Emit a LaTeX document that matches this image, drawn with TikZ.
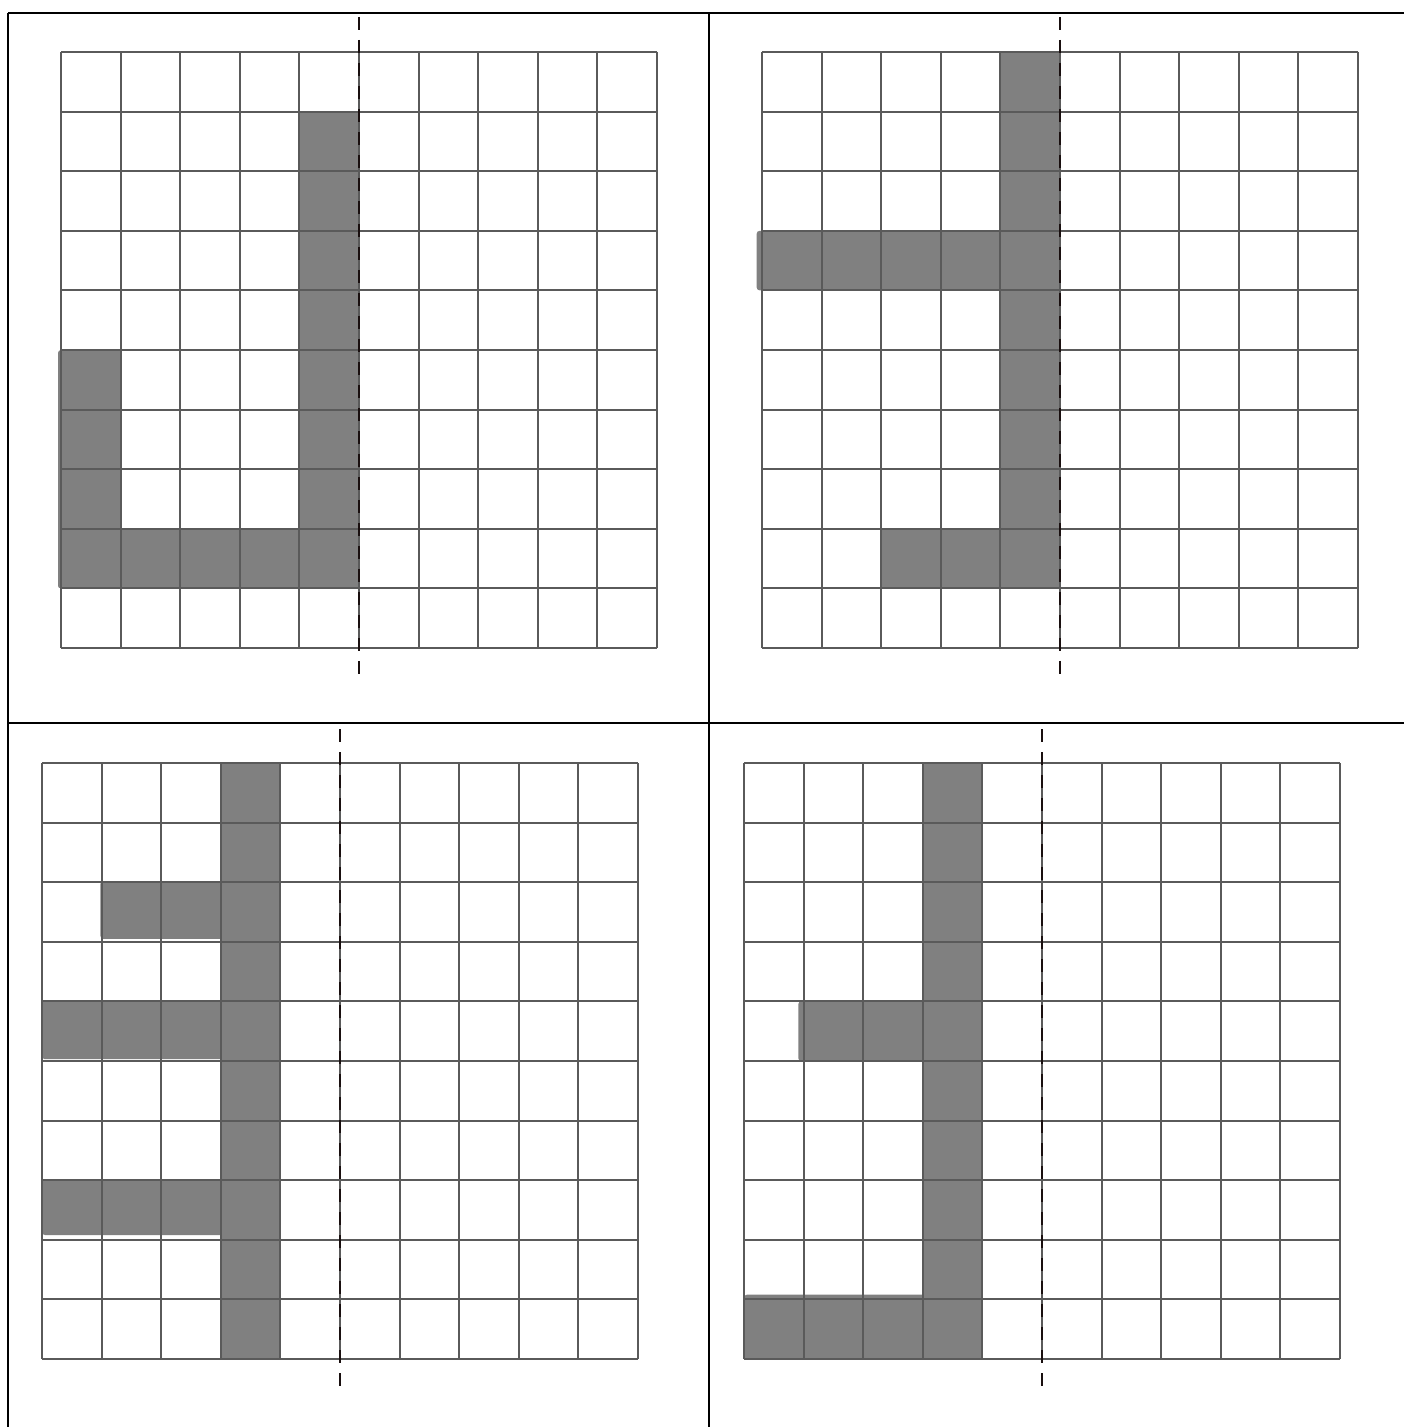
\documentclass[tikz,border=0pt]{standalone}
\begin{document}
\begin{tikzpicture}[x=0.5pt,y=-0.5pt,
  tableline/.style={line width=1.1pt,black},
  gridline/.style={line width=1pt,draw={rgb,255:red,90;green,90;blue,90}},
  shade/.style={fill={rgb,255:red,128;green,128;blue,128},rounded corners=1.5pt},
  axisline/.style={line width=1.3pt,draw={rgb,255:red,25;green,15;blue,15},dash pattern=on 6.5pt off 5pt}]
\useasboundingbox (0,0) rectangle (1404,1427);
% table frame
\draw[tableline] (8,13) -- (1404,13);
\draw[tableline] (8,13) -- (8,1427);
\draw[tableline] (709,13) -- (709,1427);
\draw[tableline] (8,723) -- (1404,723);
% ---------- top-left ----------
\begin{scope}[shift={(61,52)},x=29.8pt,y=-29.8pt]
  \fill[shade] (4,1) rectangle (5,9);
  \fill[shade] (-0.05,5) rectangle (1,9);
  \fill[shade] (-0.05,8) rectangle (5,9);
  \foreach \i in {0,...,10} {
    \draw[gridline] (\i,0) -- (\i,10);
    \draw[gridline] (0,\i) -- (10,\i);
  }
  \draw[axisline] (5,-0.59) -- (5,10.54);
\end{scope}
% ---------- top-right ----------
\begin{scope}[shift={(762,52)},x=29.8pt,y=-29.8pt]
  \fill[shade] (4,0) rectangle (5,9);
  \fill[shade] (-0.09,3) rectangle (4.1,4);
  \fill[shade] (2,8) rectangle (4.1,9);
  \foreach \i in {0,...,10} {
    \draw[gridline] (\i,0) -- (\i,10);
    \draw[gridline] (0,\i) -- (10,\i);
  }
  \draw[axisline] (5,-0.59) -- (5,10.54);
\end{scope}
% ---------- bottom-left ----------
\begin{scope}[shift={(42,763)},x=29.8pt,y=-29.8pt]
  \fill[shade] (3,0) rectangle (4,10);
  \fill[shade] (0.98,1.98) rectangle (3.1,2.95);
  \fill[shade] (0,4) rectangle (3.1,4.97);
  \fill[shade] (0,7) rectangle (3.1,7.92);
  \foreach \i in {0,...,10} {
    \draw[gridline] (\i,0) -- (\i,10);
    \draw[gridline] (0,\i) -- (10,\i);
  }
  \draw[axisline] (5,-0.57) -- (5,10.52);
\end{scope}
% ---------- bottom-right ----------
\begin{scope}[shift={(744,763)},x=29.8pt,y=-29.8pt]
  \fill[shade] (3,0) rectangle (4,10);
  \fill[shade] (0.91,4) rectangle (3.1,5);
  \fill[shade] (0,8.92) rectangle (3.1,10);
  \foreach \i in {0,...,10} {
    \draw[gridline] (\i,0) -- (\i,10);
    \draw[gridline] (0,\i) -- (10,\i);
  }
  \draw[axisline] (5,-0.57) -- (5,10.52);
\end{scope}
\end{tikzpicture}
\end{document}
